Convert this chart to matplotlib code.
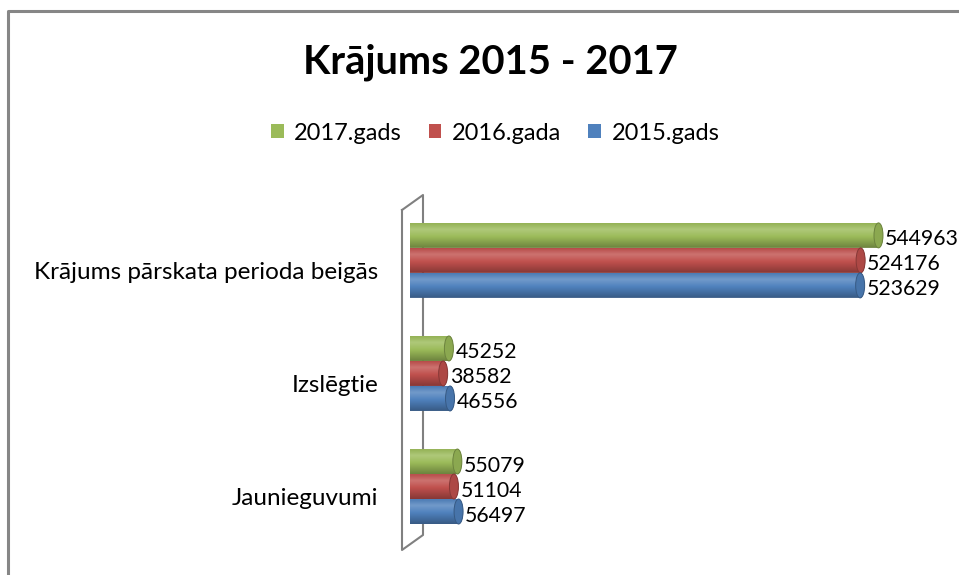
import numpy as np
import matplotlib
matplotlib.use('Agg')
import matplotlib.pyplot as plt
from matplotlib.patches import Polygon, Ellipse, Patch
from matplotlib.colors import LinearSegmentedColormap, to_rgb
from matplotlib.lines import Line2D
import matplotlib.transforms as mtransforms

plt.rcParams['font.family'] = ['Lato', 'DejaVu Sans']

# data (bottom to top)
categories = ['Jaunieguvumi', 'Izslēgtie', 'Krājums pārskata perioda beigās']
years = ['2017.gads', '2016.gada', '2015.gads']
v2017 = [55079, 45252, 544963]
v2016 = [51104, 38582, 524176]
v2015 = [56497, 46556, 523629]
colors = ['#9BBB59', '#C0504D', '#4F81BD']
series = [v2017, v2016, v2015]

W, H = 959, 575
fig = plt.figure(figsize=(W/100, H/100), dpi=100)
ax = fig.add_axes([410/W, 35/H, 533/W, 335/H])
xmax = 620000
ylo, yhi = -0.473, 2.49
px_x = xmax/533.0
px_y = (yhi-ylo)/335.0

bh = 25*px_y
cap = 9*px_x


def shade(c, f):
    c = np.array(to_rgb(c))
    if f > 0:
        return tuple(c + (1-c)*f)
    return tuple(c*(1+f))


grad = np.linspace(0, 1, 64).reshape(-1, 1)
t = np.linspace(np.pi/2, -np.pi/2, 40)

for i, (vals, col) in enumerate(zip(series, colors)):
    cmap = LinearSegmentedColormap.from_list(
        'c%d' % i,
        [(0, shade(col, -0.05)), (0.25, shade(col, 0.2)),
         (0.55, col), (1, shade(col, -0.3))])
    off = (1 - i)*bh
    for j, v in enumerate(vals):
        y = j + off
        right = np.column_stack([v + cap/2*np.cos(t), y + bh/2*np.sin(t)])
        left = np.column_stack([-cap/2*np.cos(t), y - bh/2*np.sin(t)])
        poly = Polygon(np.vstack([right, left]), closed=True,
                       facecolor='none', edgecolor='none')
        ax.add_patch(poly)
        im = ax.imshow(grad, cmap=cmap, extent=(-cap/2, v+cap/2, y-bh/2, y+bh/2),
                       aspect='auto', interpolation='bicubic', zorder=2)
        im.set_clip_path(poly)
        ax.add_patch(Ellipse((v, y), cap, bh, facecolor=shade(col, -0.1),
                             edgecolor=shade(col, -0.3), lw=0.7, zorder=3))
        ax.annotate(str(v), xy=(v, y), xytext=(cap/px_x/2 + 2, -4),
                    textcoords='offset pixels', ha='left', va='center',
                    fontsize=15.3, color='#000000', annotation_clip=False)

ax.set_xlim(0, xmax)
ax.set_ylim(ylo, yhi)
ax.set_xticks([])
ax.set_yticks(range(len(categories)))
ax.set_yticklabels(categories, fontsize=17.5)
ax.tick_params(axis='y', length=0, pad=23)
off_tr = mtransforms.ScaledTranslation(0, -10/100, fig.dpi_scale_trans)
for lab in ax.get_yticklabels():
    lab.set_transform(lab.get_transform() + off_tr)
for s in ax.spines.values():
    s.set_visible(False)
ax.patch.set_visible(False)

# wall of the 3d chart
wx = [402, 402, 423, 423, 402]
wy = [210, 550, 535, 195, 210]
ax.plot([x/W for x in wx], [1 - y/H for y in wy], color='#808080', lw=1.5,
        transform=fig.transFigure, clip_on=False, zorder=1)

fig.text(490/W, 1-62/H, 'Krājums 2015 - 2017', fontsize=28.7, fontweight='bold',
         ha='center', va='center')

handles = [Patch(facecolor=c) for c in colors]
fig.legend(handles, years, loc='center', bbox_to_anchor=(495/W, 1-133/H), ncol=3,
           frameon=False, fontsize=17, handlelength=0.55, handleheight=0.55,
           handletextpad=0.45, columnspacing=1.12)

# chart border
fig.add_artist(Line2D([8/W, 8/W, 1], [0, 1-11/H, 1-11/H], color='#868686', lw=2.2))

fig.savefig('out.png', dpi=100)
